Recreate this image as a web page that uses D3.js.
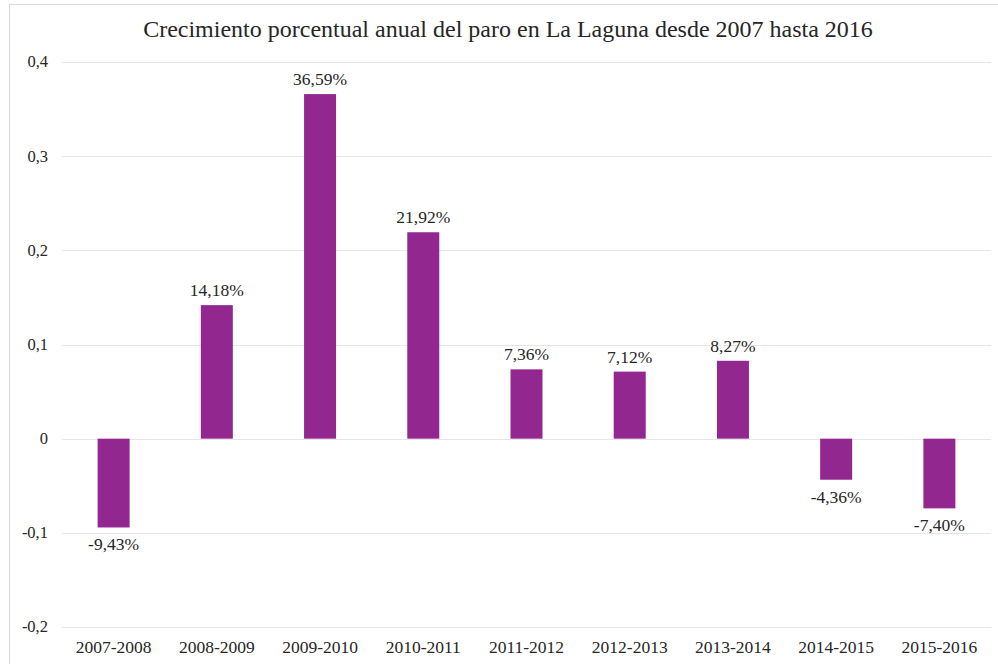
<!DOCTYPE html>
<html><head><meta charset="utf-8">
<script src="https://cdn.jsdelivr.net/npm/d3@7"></script>
<style>
html,body{margin:0;padding:0;background:#fff;}
text{font-family:"Liberation Serif","DejaVu Serif",serif;fill:#262626;}
</style></head>
<body><svg id="c" width="998" height="664"></svg>
<script>
const categories = ["2007-2008","2008-2009","2009-2010","2010-2011","2011-2012","2012-2013","2013-2014","2014-2015","2015-2016"];
const values = [-0.0943, 0.1418, 0.3659, 0.2192, 0.0736, 0.0712, 0.0827, -0.0436, -0.0740];
const yTicks = [-0.2, -0.1, 0, 0.1, 0.2, 0.3, 0.4];
const title = "Crecimiento porcentual anual del paro en La Laguna desde 2007 hasta 2016";

const svg = d3.select("#c");
const fmtPct = v => (v*100).toFixed(2).replace(".", ",") + "%";
const fmtTick = v => v === 0 ? "0" : String(+v.toFixed(1)).replace(".", ",");

// frame
svg.append("rect").attr("x",9.5).attr("y",4.5).attr("width",1000).attr("height",700)
  .attr("fill","none").attr("stroke","#d9d9d9").attr("stroke-width",1);

const x = d3.scaleBand().domain(categories).range([62, 991]).paddingInner(0.69).paddingOuter(0.345);
const y = d3.scaleLinear().domain([-0.2, 0.4]).range([627, 62]);

// gridlines
svg.append("g").selectAll("line").data(yTicks).join("line")
  .attr("x1",62).attr("x2",991)
  .attr("y1",d=>Math.round(y(d))+0.5).attr("y2",d=>Math.round(y(d))+0.5)
  .attr("stroke","#e6e6e6").attr("stroke-width",1);

// y axis labels
const yAxis = d3.axisLeft(y).tickValues(yTicks).tickFormat(fmtTick).tickSize(0).tickPadding(0);
const ga = svg.append("g").attr("transform","translate(48,0)").call(yAxis);
ga.select(".domain").remove();
ga.selectAll("text").style("font-size","16.5px").attr("fill","#262626").attr("dy","0.3em");

// x axis labels
const xAxis = d3.axisBottom(x).tickSize(0).tickPadding(0);
const gx = svg.append("g").attr("transform","translate(0,640)").call(xAxis);
gx.select(".domain").remove();
gx.selectAll("text").style("font-size","17.5px").attr("fill","#262626").attr("dy","0.75em");

// bars
svg.append("g").selectAll("rect").data(values).join("rect")
  .attr("x",(d,i)=>x(categories[i]))
  .attr("width",x.bandwidth())
  .attr("y",d=>y(Math.max(0,d)))
  .attr("height",d=>Math.abs(y(d)-y(0)))
  .attr("fill","#92278f");

// value labels
svg.append("g").selectAll("text").data(values).join("text")
  .attr("x",(d,i)=>x(categories[i])+x.bandwidth()/2)
  .attr("y",d=> d>=0 ? y(d)-9 : y(d)+23)
  .attr("text-anchor","middle")
  .style("font-size","17.5px")
  .text(fmtPct);

// title
svg.append("text").attr("x",508).attr("y",37).attr("text-anchor","middle")
  .style("font-size","24px").text(title);
</script></body></html>
